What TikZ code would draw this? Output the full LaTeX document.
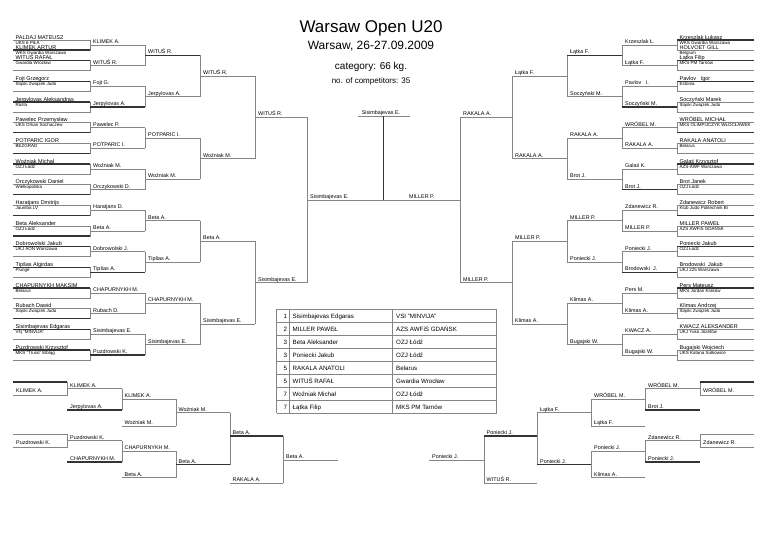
\documentclass[tikz,border=0pt]{standalone}
\usepackage{fontspec}
\setmainfont{Liberation Sans}
\newcommand\bracketlines{%
 \foreach \m in {45,65.667,86.333,107,127.667,148.333,169,189.667,210.333,231,251.667,272.333,293,313.667,334.333,355}{%
   \draw[ln] (13,\m-5) -- (90,\m-5) -- (90,\m+5) -- (13,\m+5);
   \draw[ln] (90,\m) -- (145,\m);}
 \foreach \a/\b/\c in {45/65.667/55.333,86.333/107/96.667,127.667/148.333/138,169/189.667/179.333,210.333/231/220.667,251.667/272.333/262,293/313.667/303.333,334.333/355/344.667}{%
   \draw[ln] (145,\a) -- (145,\b); \draw[ln] (145,\c) -- (200,\c);}
 \foreach \a/\b/\c in {55.333/96.667/76,138/179.333/158.667,220.667/262/241.333,303.333/344.667/324}{%
   \draw[ln] (200,\a) -- (200,\b); \draw[ln] (200,\c) -- (255,\c);}
 \foreach \a/\b/\c in {76/158.667/117.333,241.333/324/282.667}{%
   \draw[ln] (255,\a) -- (255,\b); \draw[ln] (255,\c) -- (307,\c);}
 \draw[ln] (307,117.333) -- (307,282.667);
 % repechage
 \draw[ln] (13,382) -- (67,382) -- (67,395) -- (13,395);
 \draw[ln] (67,388.5) -- (122,388.5); \draw[ln] (67,410) -- (122,410);
 \draw[ln] (122,388.5) -- (122,410);
 \draw[ln] (122,399.3) -- (176,399.3); \draw[ln] (122,426) -- (176,426);
 \draw[ln] (176,399.3) -- (176,426); \draw[ln] (176,412.7) -- (230,412.7);
 \draw[ln] (13,434) -- (67,434) -- (67,447) -- (13,447);
 \draw[ln] (67,440.5) -- (122,440.5); \draw[ln] (67,462) -- (122,462);
 \draw[ln] (122,440.5) -- (122,462);
 \draw[ln] (122,451.3) -- (176,451.3); \draw[ln] (122,477.7) -- (176,477.7);
 \draw[ln] (176,451.3) -- (176,477.7); \draw[ln] (176,464.5) -- (230,464.5);
 \draw[ln] (230,412.7) -- (230,464.5);
 \draw[ln] (230,436) -- (283,436); \draw[ln] (230,483.3) -- (283,483.3);
 \draw[ln] (283,436) -- (283,483.3); \draw[ln] (283,460) -- (338,460);
}
% thick (winner) strokes, given in left-side coordinates
\newcommand\tkS[1]{\draw[tk] (13,#1) -- (90,#1);}
\newcommand\tkH[3]{\draw[tk] (#1,#3) -- (#2,#3);}
\newcommand\repthick{%
 \tkH{13}{67}{382}\tkH{67}{122}{410}\tkH{67}{122}{462}\tkH{176}{230}{464.5}\tkH{230}{283}{436}}
\newcommand\Lslot[4]{\node[nm] (#1n) at (15.5,{#2-5.9}) {#3};\node[cl] (#1c) at (15.5,{#2-0.8}) {#4};}
\newcommand\Rslot[4]{\node[nm] (#1n) at (679.5,{#2-5.9}) {#3};\node[cl] (#1c) at (679.5,{#2-0.8}) {#4};}
\newcommand\LBL[4]{\node[lb] (#1) at (#2,{#3-1.5}) {#4};}
\begin{document}
\begin{tikzpicture}[x=1pt,y=-1pt,
  ln/.style={draw=black!48, line width=0.6pt},
  tk/.style={draw=black!80, line width=1.2pt},
  nm/.style={anchor=base west, inner sep=0pt, font=\fontsize{5.5}{6}\selectfont},
  cl/.style={anchor=base west, inner sep=0pt, font=\fontsize{4.5}{5}\selectfont},
  lb/.style={anchor=base west, inner sep=0pt, font=\fontsize{5.4}{6}\selectfont},
  tb/.style={anchor=base west, inner sep=0pt, font=\fontsize{6.2}{7}\selectfont},
  hd/.style={anchor=base, inner sep=0pt}]
\useasboundingbox (0,0) rectangle (768,543);
% titles
\node[hd, font=\fontsize{17}{20}\selectfont] (title) at (371,33) {Warsaw Open U20};
\node[hd, font=\fontsize{12}{14}\selectfont] (sub) at (371,49) {Warsaw, 26-27.09.2009};
\node[hd, font=\fontsize{10}{12}\selectfont] (cat) at (371,69.5) {category: 66 kg.};
\node[hd, font=\fontsize{8}{10}\selectfont] (cnt) at (371,83) {no. of competitors: 35};
% bracket lines
\bracketlines
\begin{scope}[xshift=767pt,xscale=-1]
\bracketlines
\end{scope}
\draw[ln] (307,200) -- (460,200);
\draw[ln] (358,116) -- (410,116);
% thick lines left
\tkS{50}\tkS{60.667}\tkS{81.333}\tkS{102}\tkS{132.667}\tkS{153.333}\tkS{164}\tkS{194.667}
\tkS{215.333}\tkS{236}\tkS{246.667}\tkS{267.333}\tkS{288}\tkS{318.667}\tkS{329.333}\tkS{350}
\tkH{90}{145}{107}\tkH{90}{145}{272.333}\tkH{90}{145}{355}\tkH{145}{200}{55.333}
\repthick
% thick lines right (mirrored)
\begin{scope}[xshift=767pt,xscale=-1]
\tkS{40}\tkS{60.667}\tkS{81.333}\tkS{132.667}\tkS{164}\tkS{215.333}\tkS{246.667}\tkS{288}
\tkH{90}{145}{107}\tkH{90}{145}{189.667}\tkH{90}{145}{272.333}\tkH{145}{200}{55.333}
\repthick
\end{scope}
\draw[tk, line width=1.5pt] (383.5,116) -- (383.5,200);
% final labels
\node[lb, anchor=base] (champ) at (381,114) {Sisimbajevas E.};
\LBL{finL}{310}{200}{Sisimbajevas E.}
\LBL{finR}{409}{200}{MILLER P.}
% left slots
\Lslot{la}{45}{PALDAJ MATEUSZ}{UKS 6 PIŁA}
\Lslot{lb}{55}{KLIMEK ARTUR}{WKS Gwardia Warszawa}
\Lslot{l1}{65.667}{WITUŚ RAFAŁ}{Gwardia Wrocław}
\Lslot{l2}{86.333}{Fojt Grzegorz}{Śląski Związek Judo}
\Lslot{l3}{107}{Jerpylovas Aleksandras}{Rosla}
\Lslot{l4}{127.667}{Pawelec Przemysław}{UKS Orkan Sochaczew}
\Lslot{l5}{148.333}{POTPARIC IGOR}{BEZGRAD}
\Lslot{l6}{169}{Woźniak Michał}{OZJ Łódź}
\Lslot{l7}{189.667}{Orczykowski Daniel}{Wielkopolska}
\Lslot{l8}{210.333}{Haratjans Dmitrijs}{Jaunība LV}
\Lslot{l9}{231}{Beta Aleksander}{OZJ Łódź}
\Lslot{l10}{251.667}{Dobrowolski Jakub}{UKJ AON Warszawa}
\Lslot{l11}{272.333}{Tipšas Algirdas}{Plungė}
\Lslot{l12}{293}{CHAPURNYKH MAKSIM}{Belarus}
\Lslot{l13}{313.667}{Rubach Dawid}{Śląski Związek Judo}
\Lslot{l14}{334.333}{Sisimbajevas Edgaras}{VšĮ "MINVIJA"}
\Lslot{l15}{355}{Puzdrowski Krzysztof}{MKS "Truso" Elbląg}
% left round labels
\LBL{a1}{93}{45}{KLIMEK A.}\LBL{a2}{93}{65.667}{WITUŚ R.}\LBL{a3}{93}{86.333}{Fojt G.}\LBL{a4}{93}{107}{Jerpylovas A.}
\LBL{a5}{93}{127.667}{Pawelec P.}\LBL{a6}{93}{148.333}{POTPARIC I.}\LBL{a7}{93}{169}{Woźniak M.}\LBL{a8}{93}{189.667}{Orczykowski D.}
\LBL{a9}{93}{210.333}{Haratjans D.}\LBL{a10}{93}{231}{Beta A.}\LBL{a11}{93}{251.667}{Dobrowolski J.}\LBL{a12}{93}{272.333}{Tipšas A.}
\LBL{a13}{93}{293}{CHAPURNYKH M.}\LBL{a14}{93}{313.667}{Rubach D.}\LBL{a15}{93}{334.333}{Sisimbajevas E.}\LBL{a16}{93}{355}{Puzdrowski K.}
\LBL{b1}{148}{55.333}{WITUŚ R.}\LBL{b2}{148}{96.667}{Jerpylovas A.}\LBL{b3}{148}{138}{POTPARIC I.}\LBL{b4}{148}{179.333}{Woźniak M.}
\LBL{b5}{148}{220.667}{Beta A.}\LBL{b6}{148}{262}{Tipšas A.}\LBL{b7}{148}{303.333}{CHAPURNYKH M.}\LBL{b8}{148}{344.667}{Sisimbajevas E.}
\LBL{c1}{203}{76}{WITUŚ R.}\LBL{c2}{203}{158.667}{Woźniak M.}\LBL{c3}{203}{241.333}{Beta A.}\LBL{c4}{203}{324}{Sisimbajevas E.}
\LBL{d1}{258}{117.333}{WITUŚ R.}\LBL{d2}{258}{282.667}{Sisimbajevas E.}
% right slots
\Rslot{ra}{45}{Krzeszlak Łukasz}{WKS Gwardia Warszawa}
\Rslot{rb}{55}{HOLVOET GILL}{Belgium}
\Rslot{r1}{65.667}{Łątka Filip}{MKS PM Tarnów}
\Rslot{r2}{86.333}{Pavlov~~~Igor}{Estonia}
\Rslot{r3}{107}{Soczyński Marek}{Śląski Związek Judo}
\Rslot{r4}{127.667}{WRÓBEL MICHAŁ}{MKS OLIMPIJCZYK WŁOCŁAWEK}
\Rslot{r5}{148.333}{RAKALA ANATOLI}{Belarus}
\Rslot{r6}{169}{Galaś Krzysztof}{AZS-AWF Warszawa}
\Rslot{r7}{189.667}{Brot Janek}{OZJ Łódź}
\Rslot{r8}{210.333}{Zdanewicz Robert}{Klub Judo Politechnik Bi}
\Rslot{r9}{231}{MILLER PAWEŁ}{AZS AWFiS GDAŃSK}
\Rslot{r10}{251.667}{Poniecki Jakub}{OZJ Łódź}
\Rslot{r11}{272.333}{Brodowski~~Jakub}{UKJ 225 Warszawa}
\Rslot{r12}{293}{Pers Mateusz}{MKS Jordan Kraków}
\Rslot{r13}{313.667}{Klimas Andrzej}{Śląski Związek Judo}
\Rslot{r14}{334.333}{KWACZ ALEKSANDER}{UKJ Yuko Józefów}
\Rslot{r15}{355}{Bugajski Wojciech}{UKS Katana Sułkowice}
% right round labels
\LBL{e1}{625}{45}{Krzeszlak Ł.}\LBL{e2}{625}{65.667}{Łątka F.}\LBL{e3}{625}{86.333}{Pavlov~~~I.}\LBL{e4}{625}{107}{Soczyński M.}
\LBL{e5}{625}{127.667}{WRÓBEL M.}\LBL{e6}{625}{148.333}{RAKALA A.}\LBL{e7}{625}{169}{Galaś K.}\LBL{e8}{625}{189.667}{Brot J.}
\LBL{e9}{625}{210.333}{Zdanewicz R.}\LBL{e10}{625}{231}{MILLER P.}\LBL{e11}{625}{251.667}{Poniecki J.}\LBL{e12}{625}{272.333}{Brodowski~~J.}
\LBL{e13}{625}{293}{Pers M.}\LBL{e14}{625}{313.667}{Klimas A.}\LBL{e15}{625}{334.333}{KWACZ A.}\LBL{e16}{625}{355}{Bugajski W.}
\LBL{f1}{570}{55.333}{Łątka F.}\LBL{f2}{570}{96.667}{Soczyński M.}\LBL{f3}{570}{138}{RAKALA A.}\LBL{f4}{570}{179.333}{Brot J.}
\LBL{f5}{570}{220.667}{MILLER P.}\LBL{f6}{570}{262}{Poniecki J.}\LBL{f7}{570}{303.333}{Klimas A.}\LBL{f8}{570}{344.667}{Bugajski W.}
\LBL{g1}{515}{76}{Łątka F.}\LBL{g2}{515}{158.667}{RAKALA A.}\LBL{g3}{515}{241.333}{MILLER P.}\LBL{g4}{515}{324}{Klimas A.}
\LBL{h1}{463}{117.333}{RAKALA A.}\LBL{h2}{463}{282.667}{MILLER P.}
% left repechage labels
\node[lb] (pA) at (16,392.5) {KLIMEK A.};
\node[lb] (pB) at (16,444) {Puzdrowski K.};
\LBL{p1}{70}{388.5}{KLIMEK A.}\LBL{p2}{70}{410}{Jerpylovas A.}\LBL{p3}{124.5}{399.3}{KLIMEK A.}\LBL{p4}{124.5}{426}{Woźniak M.}
\LBL{p5}{178.5}{412.7}{Woźniak M.}\LBL{p6}{70}{440.5}{Puzdrowski K.}\LBL{p7}{70}{462}{CHAPURNYKH M.}\LBL{p8}{124.5}{451.3}{CHAPURNYKH M.}
\LBL{p9}{124.5}{477.7}{Beta A.}\LBL{p10}{178.5}{464.5}{Beta A.}\LBL{p11}{232.5}{436}{Beta A.}\LBL{p12}{232.5}{483.3}{RAKALA A.}
\LBL{p13}{286}{460}{Beta A.}
% right repechage labels
\node[lb] (qA) at (703,392.5) {WRÓBEL M.};
\node[lb] (qB) at (703,444) {Zdanewicz R.};
\LBL{q1}{648}{388.5}{WRÓBEL M.}\LBL{q2}{648}{410}{Brot J.}\LBL{q3}{594}{399.3}{WRÓBEL M.}\LBL{q4}{594}{426}{Łątka F.}
\LBL{q5}{540}{412.7}{Łątka F.}\LBL{q6}{648}{440.5}{Zdanewicz R.}\LBL{q7}{648}{462}{Poniecki J.}\LBL{q8}{594}{451.3}{Poniecki J.}
\LBL{q9}{594}{477.7}{Klimas A.}\LBL{q10}{540}{464.5}{Poniecki J.}\LBL{q11}{486.5}{436}{Poniecki J.}\LBL{q12}{486.5}{483.3}{WITUŚ R.}
\LBL{q13}{432}{460}{Poniecki J.}
% results table
\foreach \i in {0,...,8}{\draw[ln] (276.7,309.3+13*\i) -- (496.7,309.3+13*\i);}
\foreach \x in {276.7,289.3,392.7,496.7}{\draw[ln] (\x,309.3) -- (\x,413.3);}
\foreach \i/\p/\n/\c in {0/1/Sisimbajevas Edgaras/VSI "MINVIJA",1/2/MILLER PAWEŁ/AZS AWFiS GDAŃSK,2/3/Beta Aleksander/OZJ Łódź,3/3/Poniecki Jakub/OZJ Łódź,4/5/RAKALA ANATOLI/Belarus,5/5/WITUŚ RAFAŁ/Gwardia Wrocław,6/7/Woźniak Michał/OZJ Łódź,7/7/Łątka Filip/MKS PM Tarnów}{%
  \node[tb, anchor=base east] (tp\i) at (287.3,309.3+13*\i+8.8) {\p};
  \node[tb] (tn\i) at (292.5,309.3+13*\i+8.8) {\n};
  \node[tb] (tc\i) at (396,309.3+13*\i+8.8) {\c};}
\end{tikzpicture}
\end{document}
